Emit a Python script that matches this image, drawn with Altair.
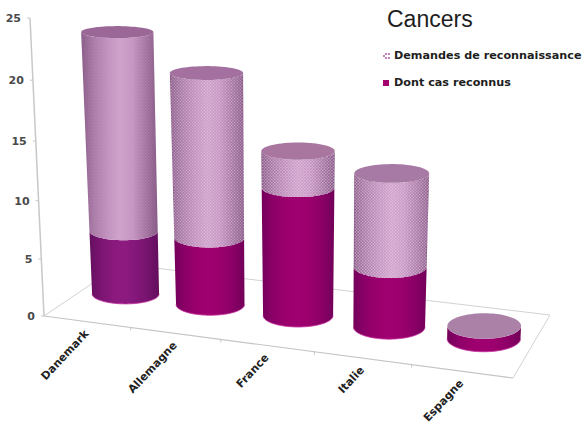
import altair as alt
import numpy as np
import pandas as pd

# Chart values
categories = ["Danemark", "Allemagne", "France", "Italie", "Espagne"]
demandes = [23.8, 20.3, 13.9, 12.5, 1.0]
reconnus = [5.7, 5.85, 10.8, 4.9, 1.0]
y_ticks = [0, 5, 10, 15, 20, 25]

TITLE = "Cancers"
LEGEND = ["Demandes de reconnaissance", "Dont cas reconnus"]

# Perspective of the floor: corners front-left, front-right, back-right, back-left
FLOOR = [(44, 316), (513, 378), (550, 315), (121, 264)]
W, H = 585, 428


def homography(quad):
    src = [(0, 0), (5, 0), (5, 1), (0, 1)]
    a, b = [], []
    for (u, v), (x, y) in zip(src, quad):
        a.append([u, v, 1, 0, 0, 0, -u * x, -v * x])
        a.append([0, 0, 0, u, v, 1, -u * y, -v * y])
        b += [x, y]
    return np.append(np.linalg.solve(np.array(a, float), np.array(b, float)), 1).reshape(3, 3)


M = homography(FLOOR)


def floor(u, v):
    p = M @ np.array([u, v, 1.0])
    return p[0] / p[2], p[1] / p[2]


def spacing(i):
    return floor(i + 1, 0.5)[0] - floor(i, 0.5)[0]


def axis_height(value):
    # pixels above the floor along the value axis, slightly growing towards the top
    return 11.27 * value + 0.026 * value ** 2


def centre(i, value):
    # verticals converge on a vanishing point far below the chart
    fx, fy = floor(i + 0.5, 0.5)
    h = value * 11.0 * spacing(i) / spacing(0)
    return fx + (fx - 300) * h / 5485, fy - h, h


def radii(i, h):
    sp = spacing(i) / spacing(0)
    rx = 33.5 * (1 + (sp - 1) * 0.6) * (1 + 0.0003 * h)
    ry = (10 + 0.75 * i) * (1 - h / 262 * 0.4)
    return rx, ry


def arc(i, value, start, stop, n=48):
    cx, cy, h = centre(i, value)
    rx, ry = radii(i, h)
    t = np.linspace(start, stop, n)
    return list(cx + rx * np.cos(t)), list(cy + ry * np.sin(t))


def frame(xs, ys):
    return pd.DataFrame({"x": xs, "y": ys, "i": range(len(xs))})


X = alt.X("x:Q", scale=alt.Scale(domain=[0, W], nice=False, zero=False), axis=None)
Y = alt.Y("y:Q", scale=alt.Scale(domain=[H, 0], nice=False, zero=False), axis=None)
ORDER = alt.Order("i:Q")


def gradient(colors):
    stops = np.linspace(0, 1, len(colors))
    return {
        "gradient": "linear", "x1": 0, "x2": 1, "y1": 0, "y2": 0,
        "stops": [{"offset": float(o), "color": c} for o, c in zip(stops, colors)],
    }


def polygon(xs, ys, fill):
    return (
        alt.Chart(frame(xs + xs[:1], ys + ys[:1]))
        .mark_line(fill=fill, stroke="transparent", strokeWidth=0, interpolate="linear")
        .encode(x=X, y=Y, order=ORDER)
    )


def path(xs, ys, color, width):
    return (
        alt.Chart(frame(xs, ys))
        .mark_line(color=color, strokeWidth=width)
        .encode(x=X, y=Y, order=ORDER)
    )


def inside(px, py, xs, ys):
    hit = np.zeros(px.shape, bool)
    n = len(xs)
    for k in range(n):
        x0, y0, x1, y1 = xs[k], ys[k], xs[(k + 1) % n], ys[(k + 1) % n]
        if y0 == y1:
            continue
        cross = ((y0 > py) != (y1 > py)) & (px < x0 + (py - y0) * (x1 - x0) / (y1 - y0))
        hit ^= cross
    return hit


def weave(xs, ys, opacity):
    # fine woven dots on the hatched part of a column
    gx, gy = np.meshgrid(np.arange(min(xs), max(xs), 3.0), np.arange(min(ys), max(ys), 1.5))
    gx = gx + (np.arange(gx.shape[0])[:, None] % 2) * 1.5
    keep = inside(gx, gy, np.array(xs), np.array(ys))
    data = pd.DataFrame({"x": gx[keep].round(1), "y": gy[keep].round(1)})
    return (
        alt.Chart(data)
        .mark_square(size=1.6, color="#f6dcf2", opacity=opacity, stroke=None)
        .encode(x=X, y=Y)
    )


PINK = ["#875a86", "#a97aa7", "#c08fbd", "#cda1ca", "#c595c2", "#a777a5", "#855884"]
PURPLE = ["#650f60", "#7b1572", "#8a197d", "#8e1a80", "#84177a", "#76146e", "#620e5c"]
MAGENTA = ["#74005b", "#8d0068", "#9c006d", "#a00070", "#9a006c", "#8a0066", "#720059"]
TOPS = ["#9a6797", "#a3709f", "#a9769f", "#a67aa4", "#ab81a8"]
HATCH = [0.12, 0.45, 0.55, 0.55, 0.0]

layers = []

# floor outline, value axis and its ticks
for a, b in [(1, 2), (2, 3), (3, 0)]:
    layers.append(path([FLOOR[a][0], FLOOR[b][0]], [FLOOR[a][1], FLOOR[b][1]], "#d2d2d2", 1))
layers.append(path([FLOOR[0][0], FLOOR[1][0]], [FLOOR[0][1], FLOOR[1][1]], "#c4c4c4", 1.2))


def axis_point(value):
    h = axis_height(value)
    return FLOOR[0][0] - 0.047 * h, FLOOR[0][1] - h


ax = [axis_point(v) for v in y_ticks]
layers.append(path([p[0] for p in ax], [p[1] for p in ax], "#c8c8c8", 1.5))
for p in ax:
    layers.append(path([p[0] - 3, p[0]], [p[1], p[1]], "#c8c8c8", 1))
for u in range(1, 5):
    fx, fy = floor(u, 0)
    layers.append(path([fx, fx], [fy, fy + 3], "#c4c4c4", 1))

# columns, left to right as they sit on the floor
for i in range(len(categories)):
    shade = PURPLE if i == 0 else MAGENTA
    x0, y0 = arc(i, 0, np.pi, 0)
    x1, y1 = arc(i, reconnus[i], 0, np.pi)
    layers.append(polygon(x0 + x1, y0 + y1, gradient(shade)))
    layers.append(path(x0, y0, "#c8329f", 0.8))
    if demandes[i] > reconnus[i]:
        x2, y2 = arc(i, reconnus[i], np.pi, 0)
        x3, y3 = arc(i, demandes[i], 0, np.pi)
        layers.append(polygon(x2 + x3, y2 + y3, gradient(PINK)))
        layers.append(weave(x2 + x3, y2 + y3, HATCH[i]))
    xt, yt = arc(i, demandes[i], 0, 2 * np.pi, 72)
    layers.append(polygon(xt, yt, TOPS[i]))

# value axis labels
y_labels = pd.DataFrame({
    "x": [axis_point(v)[0] - 9 for v in y_ticks],
    "y": [axis_point(v)[1] + 1 for v in y_ticks],
    "t": [str(v) for v in y_ticks],
})
layers.append(
    alt.Chart(y_labels)
    .mark_text(align="right", baseline="middle", font="DejaVu Sans", fontWeight="bold",
               fontSize=11, color="#4a4a4a")
    .encode(x=X, y=Y, text="t:N")
)

# category labels, slanted under the front edge
cat_pos = [floor(i + 0.5, 0) for i in range(len(categories))]
cat_labels = pd.DataFrame({
    "x": [p[0] for p in cat_pos],
    "y": [p[1] + 10.5 for p in cat_pos],
    "t": categories,
})
layers.append(
    alt.Chart(cat_labels)
    .mark_text(align="right", baseline="middle", angle=313, font="DejaVu Sans", fontWeight="bold",
               fontSize=11, color="#222222")
    .encode(x=X, y=Y, text="t:N")
)

# title and legend
layers.append(
    alt.Chart(pd.DataFrame({"x": [387], "y": [20], "t": [TITLE]}))
    .mark_text(align="left", baseline="middle", font="Liberation Sans", fontSize=23, color="#1e1e1e")
    .encode(x=X, y=Y, text="t:N")
)
layers.append(
    alt.Chart(pd.DataFrame({"x": [394, 394], "y": [56, 83], "t": LEGEND}))
    .mark_text(align="left", baseline="middle", font="DejaVu Sans", fontWeight="bold",
               fontSize=11.2, color="#1e1e1e")
    .encode(x=X, y=Y, text="t:N")
)
layers.append(
    alt.Chart(pd.DataFrame({"x": [386], "y": [83]}))
    .mark_square(size=36, color="#a3006f", opacity=1)
    .encode(x=X, y=Y)
)
layers.append(
    alt.Chart(pd.DataFrame({"x": [384, 386, 386, 389, 389], "y": [56, 54, 58, 54, 58]}))
    .mark_square(size=3, color="#a0409a", opacity=1)
    .encode(x=X, y=Y)
)

chart = (
    alt.layer(*layers)
    .properties(width=W, height=H, padding=0, autosize=alt.AutoSizeParams(type="none"), background="white")
    .configure_view(stroke=None)
)

chart.save("out.html", embed_options={"renderer": "svg", "actions": False})
